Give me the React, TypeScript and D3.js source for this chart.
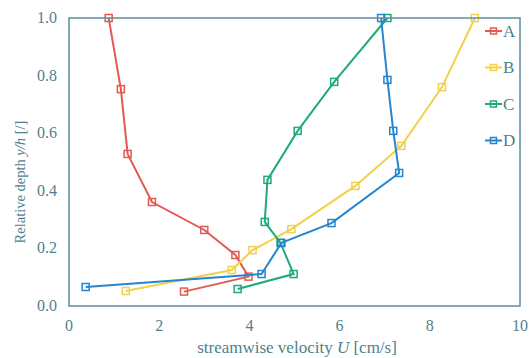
import React from "react";
import * as d3 from "d3";

const seriesNames = ["A", "B", "C", "D"];
const seriesColors = ["#e35a52", "#f2d04a", "#1faa78", "#2585d0"];
const velA = [0.88, 1.15, 1.3, 1.84, 3.0, 3.69, 3.98, 2.55];
const depthA = [1.0, 0.753, 0.528, 0.361, 0.264, 0.177, 0.102, 0.05];
const velB = [9.0, 8.27, 7.37, 6.35, 4.93, 4.07, 3.61, 1.26];
const depthB = [1.0, 0.76, 0.556, 0.417, 0.267, 0.194, 0.125, 0.052];
const velC = [7.06, 5.88, 5.07, 4.4, 4.34, 4.69, 4.98, 3.74];
const depthC = [1.0, 0.778, 0.608, 0.438, 0.292, 0.219, 0.111, 0.059];
const velD = [6.92, 7.06, 7.19, 7.32, 5.82, 4.71, 4.27, 0.37];
const depthD = [1.0, 0.785, 0.608, 0.462, 0.288, 0.219, 0.111, 0.066];
const xTicks = [0, 2, 4, 6, 8, 10];
const yTicks = [0, 0.2, 0.4, 0.6, 0.8, 1.0];

const W = 529, H = 358;
const M = { left: 69, right: 9, top: 18, bottom: 52 };
const axisColor = "#5a8f9a";
const textColor = "#4f7f8c";
const fontStyle = { fontFamily: "Liberation Serif, Times New Roman, DejaVu Serif, serif" };

export default function App() {
  const x = d3.scaleLinear().domain([0, 10]).range([M.left, W - M.right]);
  const y = d3.scaleLinear().domain([0, 1]).range([H - M.bottom, M.top]);
  const vels = [velA, velB, velC, velD];
  const depths = [depthA, depthB, depthC, depthD];
  const line = d3.line<[number, number]>().x(d => x(d[0])).y(d => y(d[1]));
  const ms = 7;
  return (
    <svg width={W} height={H} style={{ position: "absolute", left: 0, top: 0, background: "#fff" }}>
      {seriesNames.map((n, i) => {
        const pts = vels[i].map((v, j) => [v, depths[i][j]] as [number, number]);
        return (
          <g key={n}>
            <path d={line(pts) || ""} fill="none" stroke={seriesColors[i]} strokeWidth={2} />
            {pts.map((p, j) => (
              <rect key={j} x={x(p[0]) - ms / 2} y={y(p[1]) - ms / 2} width={ms} height={ms}
                fill="none" stroke={seriesColors[i]} strokeWidth={1.5} />
            ))}
          </g>
        );
      })}
      <rect x={M.left} y={M.top} width={W - M.right - M.left} height={H - M.bottom - M.top}
        fill="none" stroke={axisColor} strokeWidth={1.5} />
      <g style={fontStyle} fill={textColor}>
        {xTicks.map(t => (
          <text key={t} x={x(t)} y={331} textAnchor="middle" fontSize={16}>{t}</text>
        ))}
        {yTicks.map(t => (
          <text key={t} x={57} y={y(t) + 5} textAnchor="end" fontSize={16}>{t.toFixed(1)}</text>
        ))}
        <text x={297} y={353} textAnchor="middle" fontSize={17}>
          streamwise velocity <tspan fontStyle="italic">U</tspan> [cm/s]
        </text>
        <text transform={`translate(25,182) rotate(-90)`} textAnchor="middle" fontSize={14.5}>
          Relative depth <tspan fontStyle="italic">y/h</tspan> [/]
        </text>
        {seriesNames.map((n, i) => {
          const ly = 31 + i * 36.5;
          return (
            <g key={n}>
              <line x1={485} x2={502} y1={ly} y2={ly} stroke={seriesColors[i]} strokeWidth={2} />
              <rect x={493.5 - 3} y={ly - 3} width={6} height={6} fill="none" stroke={seriesColors[i]} strokeWidth={1.5} />
              <text x={503} y={ly + 5.5} fontSize={17}>{n}</text>
            </g>
          );
        })}
      </g>
    </svg>
  );
}
